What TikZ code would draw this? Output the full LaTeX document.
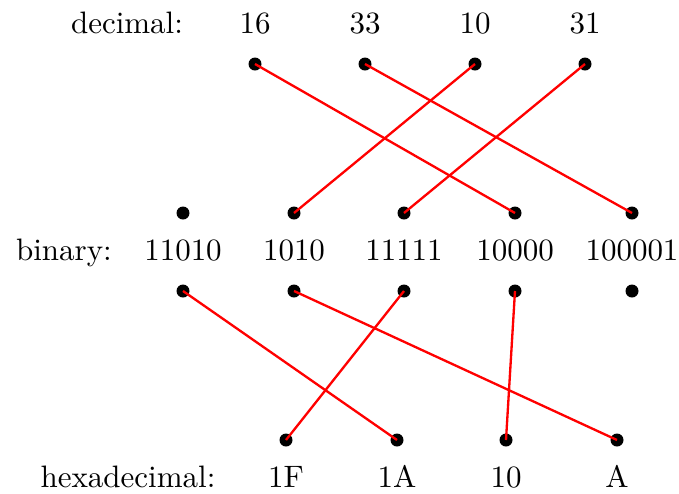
\documentclass[tikz,border=0pt]{standalone}
\begin{document}
\begin{tikzpicture}[x=0.3226pt,y=-0.3226pt,
  dot/.style={circle,fill=black,inner sep=0pt,minimum size=13*0.3226pt},
  lbl/.style={anchor=base,inner sep=0pt,font=\fontsize{10pt}{12pt}\selectfont},
  link/.style={red,line width=0.75pt}]
\useasboundingbox (0,0) rectangle (679,493);
% labels
\node[lbl] (ld) at (127,33) {decimal:};
\node[lbl] (lb) at (64,260.5) {binary:};
\node[lbl] (lh) at (128,487) {hexadecimal:};
% decimal
\foreach \n/\x/\t in {d1/255/16,d2/365/33,d3/475/10,d4/585/31}{
  \node[lbl] (\n t) at (\x,33) {\t};
  \node[dot] (\n) at (\x,64) {};
}
% binary
\foreach \n/\x/\t in {b1/183/11010,b2/294/1010,b3/404/11111,b4/515/10000,b5/632/100001}{
  \node[dot] (\n u) at (\x,213) {};
  \node[lbl] (\n t) at (\x,260.5) {\t};
  \node[dot] (\n l) at (\x,291) {};
}
% hex
\foreach \n/\x/\t in {h1/286/1F,h2/397/1A,h3/506/10,h4/617/A}{
  \node[dot] (\n) at (\x,440) {};
  \node[lbl] (\n t) at (\x,487) {\t};
}
\draw[link] (d1.center) -- (b4u.center);
\draw[link] (d2.center) -- (b5u.center);
\draw[link] (d3.center) -- (b2u.center);
\draw[link] (d4.center) -- (b3u.center);
\draw[link] (b1l.center) -- (h2.center);
\draw[link] (b2l.center) -- (h4.center);
\draw[link] (b3l.center) -- (h1.center);
\draw[link] (b4l.center) -- (h3.center);
\end{tikzpicture}
\end{document}
